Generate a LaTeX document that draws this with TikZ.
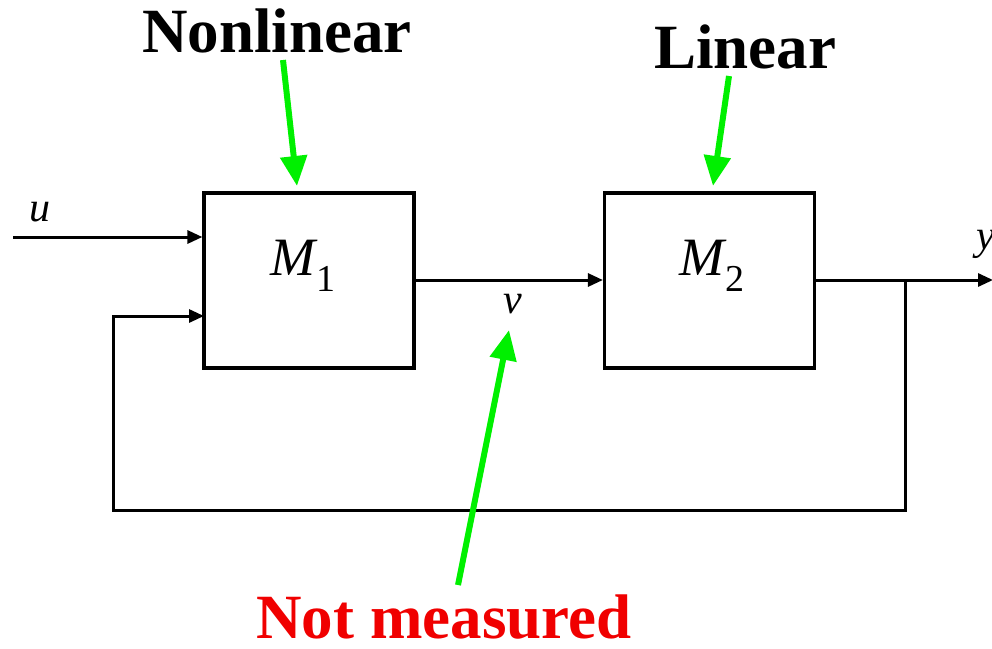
\documentclass[tikz,border=0pt]{standalone}
\usepackage{fontspec}
\setmainfont{Liberation Serif}
\usetikzlibrary{arrows.meta}
\definecolor{hlgreen}{RGB}{0,240,0}
\definecolor{hlred}{RGB}{240,0,0}
\tikzset{
  block/.style={draw, line width=3.2pt, minimum width=210pt, minimum height=175pt, inner sep=0pt},
  signal/.style={line width=3pt, -{Triangle[length=15pt,width=13pt]}},
  wire/.style={line width=3pt},
  pointer/.style={draw=hlgreen, line width=6pt, -{Triangle[length=30pt,width=26pt]}, color=hlgreen},
  caption/.style={font=\bfseries\fontsize{63}{63}\selectfont, inner sep=0pt},
  blocklabel/.style={font=\fontsize{54}{54}\selectfont, inner sep=0pt},
  siglabel/.style={font=\itshape\fontsize{42}{42}\selectfont, inner sep=0pt}
}
\newcommand{\blocksub}[1]{\raisebox{-0.3em}{\fontsize{38}{38}\selectfont #1}}
\begin{document}
\begin{tikzpicture}[x=1pt,y=-1pt]
  \useasboundingbox (0,0) rectangle (992,648);

  % blocks
  \node[block] (m1) at (309,280.5) {};
  \node[block] (m2) at (709.5,280.5) {};
  \node[blocklabel] (m1lab) at (303,266) {\textit{M}\kern-1pt\blocksub{1}};
  \node[blocklabel] (m2lab) at (712,266) {\textit{M}\kern-1pt\blocksub{2}};

  % signal points
  \coordinate (uin) at (13,237);
  \coordinate (m1u) at (m1.west |- uin);
  \coordinate (m1fb) at (204,316);
  \coordinate (split) at (905,280);
  \coordinate (yout) at (992,280);
  \coordinate (fbbr) at (905,510);
  \coordinate (fbbl) at (113,510);
  \coordinate (fbtl) at (113,316);

  % signal flow
  \draw[signal] (uin) -- (m1u);
  \draw[signal] (m1.east |- split) -- (m2.west |- split);
  \draw[wire] (m2.east |- split) -- (split);
  \draw[signal, shorten >=-1pt] (split) -- (yout);
  \draw[signal] (split) -- (fbbr) -- (fbbl) -- (fbtl) -- (m1fb);

  % signal names
  \node[siglabel] (ulab) at (40,212) {u};
  \node[siglabel] (vlab) at (513,304) {v};
  \node[siglabel, anchor=west] (ylab) at (976,244) {y};

  % annotations
  \node[caption] (nl) at (277,31) {Nonlinear};
  \node[caption] (lin) at (745,47) {Linear};
  \node[caption, text=hlred] (nm) at (444,617) {Not measured};

  \coordinate (nltail) at (283,60);
  \coordinate (nltip) at (297,186);
  \coordinate (lintail) at (729,76);
  \coordinate (lintip) at (713,186);
  \coordinate (nmtail) at (458,585);
  \coordinate (nmtip) at (509,330);
  \draw[pointer] (nltail) -- (nltip);
  \draw[pointer] (lintail) -- (lintip);
  \draw[pointer] (nmtail) -- (nmtip);
\end{tikzpicture}
\end{document}
